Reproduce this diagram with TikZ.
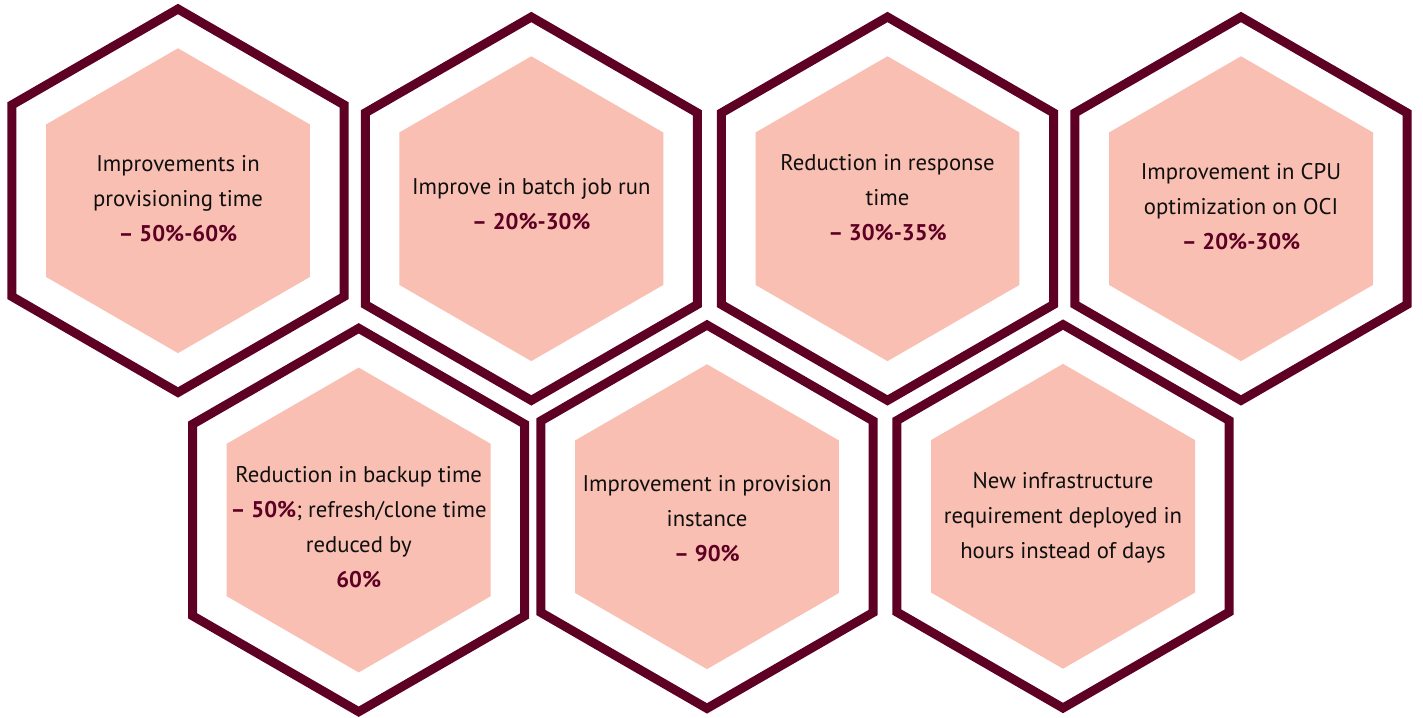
\documentclass[tikz,border=0pt]{standalone}
\usepackage{fontspec}
\setmainfont{PT Sans}
\definecolor{maroon}{RGB}{94,0,35}
\definecolor{salmon}{RGB}{249,191,178}
\definecolor{txt}{RGB}{15,15,15}
\newcommand\hexcell[3]{%
  \coordinate (#1) at (#2,#3);
  \fill[salmon] (#1) +(90:152.4) -- +(150:152.4) -- +(210:152.4) -- +(270:152.4) -- +(330:152.4) -- +(30:152.4) -- cycle;
  \draw[hexborder] (#1) +(90:191.7) -- +(150:191.7) -- +(210:191.7) -- +(270:191.7) -- +(330:191.7) -- +(30:191.7) -- cycle;
}
\newcommand\pct[1]{\textbf{\textcolor{maroon}{#1}}}
\tikzset{
  hexborder/.style={draw=maroon, line width=9pt, line join=miter},
  label/.style={align=center, text=txt, font=\fontsize{22.7}{35}\selectfont, inner sep=0pt}
}
\begin{document}
\begin{tikzpicture}[x=1pt,y=-1pt]
\useasboundingbox (0,0) rectangle (1423,717);
\fill[white] (0,0) rectangle (1423,717);
\hexcell{h1}{178}{200.7}
\hexcell{h2}{531.3}{208.7}
\hexcell{h3}{887.5}{208.7}
\hexcell{h4}{1241}{208.7}
\hexcell{h5}{358.7}{520}
\hexcell{h6}{707}{516.7}
\hexcell{h7}{1063}{516.3}
\node[label] (t1) at (178,198.5) {Improvements in\\provisioning time\\\pct{– 50\%-60\%}};
\node[label] (t2) at (531.3,204.5) {Improve in batch job run\\\pct{– 20\%-30\%}};
\node[label] (t3) at (887.5,198) {Reduction in response\\time\\\pct{– 30\%-35\%}};
\node[label] (t4) at (1241,206.2) {Improvement in CPU\\optimization on OCI\\\pct{– 20\%-30\%}};
\node[label] (t5) at (358.7,527.2) {Reduction in backup time\\\pct{– 50\%}; refresh/clone time\\reduced by\\\pct{60\%}};
\node[label] (t6) at (707,518.3) {Improvement in provision\\instance\\\pct{– 90\%}};
\node[label] (t7) at (1063,517.5) {New infrastructure\\requirement deployed in\\hours instead of days};
\end{tikzpicture}
\end{document}
